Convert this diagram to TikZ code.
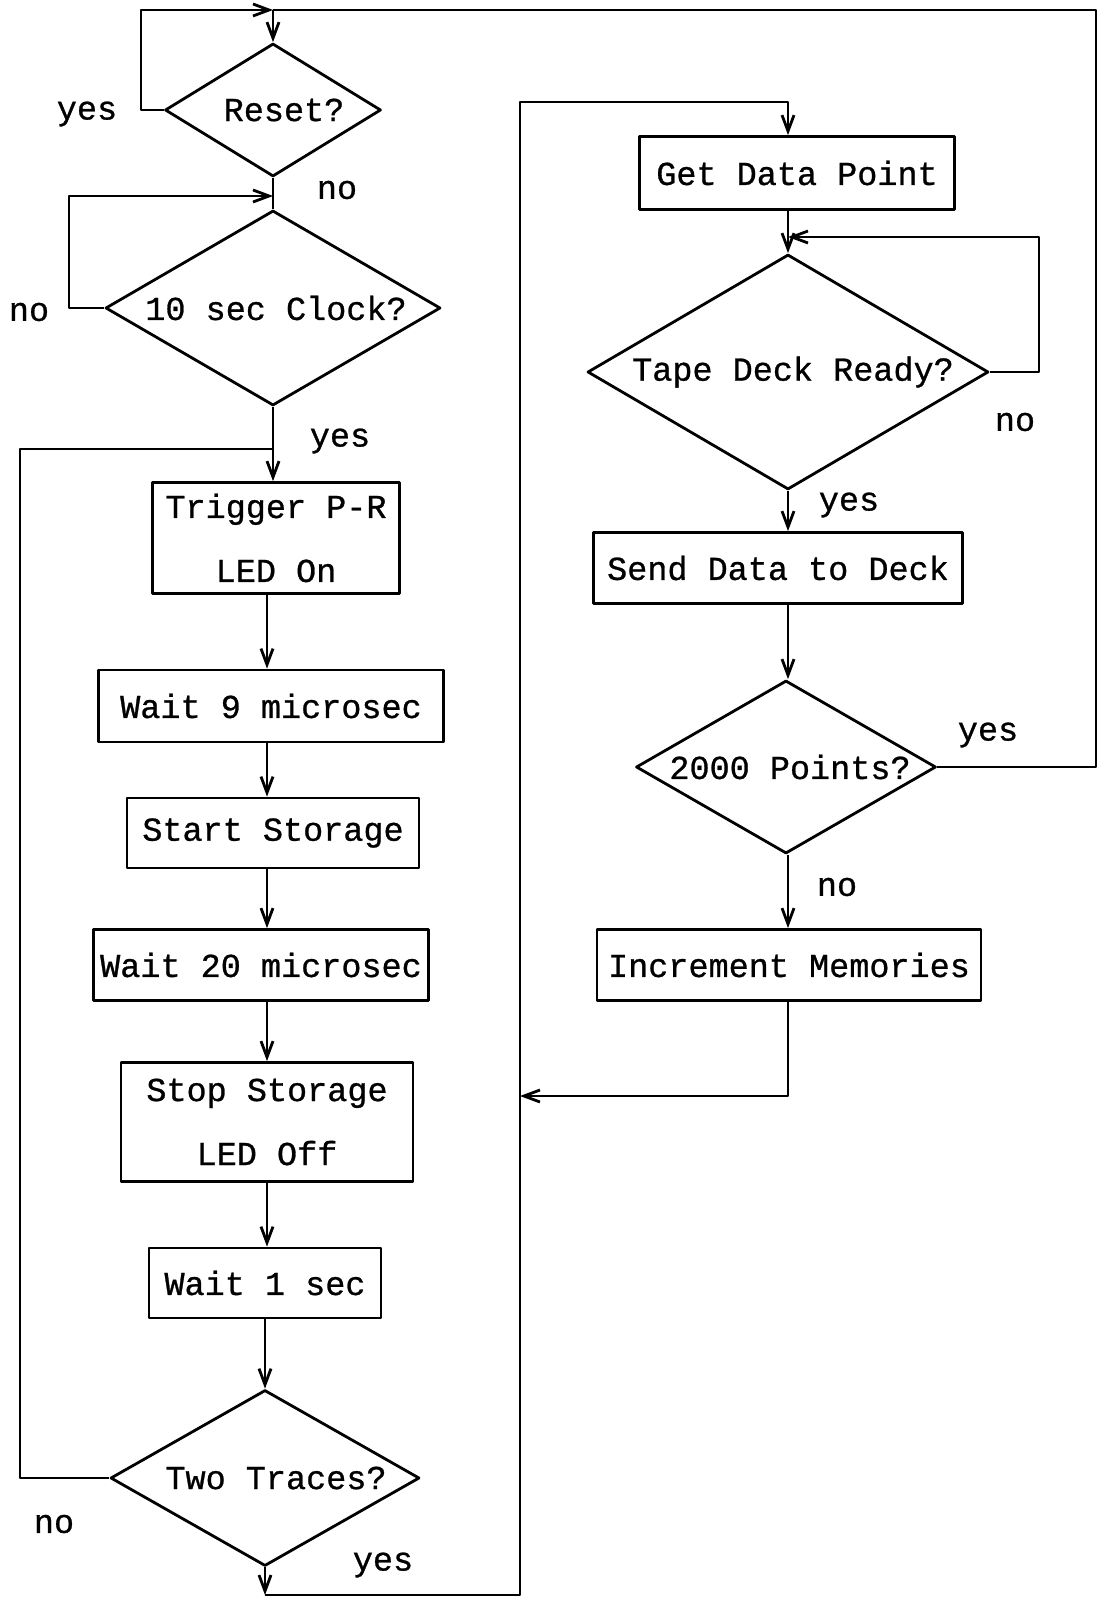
\documentclass[tikz,border=0pt]{standalone}
\usepackage{fontspec}
\newfontfamily\tw[FakeBold=0.8]{Liberation Mono}
\usetikzlibrary{shapes.geometric,arrows.meta}
\begin{document}
\begin{tikzpicture}[x=1pt,y=-1pt,
  every node/.style={font=\tw\fontsize{33.5}{64}\selectfont},
  ln/.style={line width=2.8pt, line join=round},
  arr/.style={ln,-{Straight Barb[length=16pt,width=12pt]}},
  box/.style={draw,ln,inner sep=0pt,align=center},
  dia/.style={draw,ln,diamond,inner sep=0pt,aspect=1.7},
  lab/.style={inner sep=0pt}]
\useasboundingbox (0,0) rectangle (1098,1600);
% left column
\node[dia,minimum width=216pt,minimum height=133pt] (reset) at (273,110) {\hspace*{22pt}Reset?};
\node[dia,minimum width=335pt,minimum height=195pt] (clock) at (273,308) {\hspace*{6pt}10 sec Clock?};
\node[box,minimum width=247pt,minimum height=111pt] (trig) at (276,538) {Trigger P-R\\LED On};
\node[box,minimum width=345pt,minimum height=72pt] (w9) at (271,706) {Wait 9 microsec};
\node[box,minimum width=292pt,minimum height=70pt] (ss) at (273,833) {Start Storage};
\node[box,minimum width=335pt,minimum height=71pt] (w20) at (261,965) {Wait 20 microsec};
\node[box,minimum width=292pt,minimum height=119pt] (stop) at (267,1122) {Stop Storage\\LED Off};
\node[box,minimum width=232pt,minimum height=70pt] (w1) at (265,1283) {Wait 1 sec};
\node[dia,minimum width=309pt,minimum height=176pt] (two) at (265,1478) {\hspace*{22pt}Two Traces?};
% right column
\node[box,minimum width=315pt,minimum height=73pt] (gd) at (797,173) {Get Data Point};
\node[dia,minimum width=401pt,minimum height=235pt] (tape) at (788,372) {\hspace*{10pt}Tape Deck Ready?};
\node[box,minimum width=369pt,minimum height=71pt] (send) at (778,568) {Send Data to Deck};
\node[dia,minimum width=300pt,minimum height=173pt] (pts) at (786,767) {\hspace*{8pt}2000 Points?};
\node[box,minimum width=384pt,minimum height=71pt] (inc) at (789,965) {Increment Memories};
% labels
\node[lab] (l1) at (87,114) {yes};
\node[lab] (l2) at (337,190) {no};
\node[lab] (l3) at (29,312) {no};
\node[lab] (l4) at (340,441) {yes};
\node[lab] (l5) at (54,1524) {no};
\node[lab] (l6) at (383,1565) {yes};
\node[lab] (l7) at (1015,422) {no};
\node[lab] (l8) at (849,505) {yes};
\node[lab] (l9) at (988,735) {yes};
\node[lab] (l10) at (837,887) {no};
% coordinates
\coordinate (cl2) at (267,0);
\coordinate (cr) at (788,0);
\coordinate (top) at (273,10);
\coordinate (tl) at (141,10);
\coordinate (tr) at (1096,10);
\coordinate (nl) at (69,196);
\coordinate (nj) at (273,196);
\coordinate (lj) at (20,449);
\coordinate (j1) at (273,449);
\coordinate (bl) at (265,1595);
\coordinate (br) at (520,1595);
\coordinate (rt) at (520,102);
\coordinate (tn) at (1039,237);
\coordinate (tj) at (788,237);
\coordinate (rj) at (520,1096);
% connectors left
\draw[arr] (reset.west) -| (tl) -- (top);
\draw[arr] (top) -- (reset.north);
\draw[ln] (pts.east) -| (tr) -- (top);
\draw[ln] (reset.south) -- (clock.north);
\draw[arr] (clock.west) -| (nl) -- (nj);
\draw[ln] (two.west) -| (lj) -- (j1);
\draw[arr] (clock.south) -- (trig.north -| clock.south);
\draw[arr] (trig.south -| cl2) -- (w9.north -| cl2);
\draw[arr] (w9.south -| cl2) -- (ss.north -| cl2);
\draw[arr] (ss.south -| cl2) -- (w20.north -| cl2);
\draw[arr] (w20.south -| cl2) -- (stop.north -| cl2);
\draw[arr] (stop.south -| cl2) -- (w1.north -| cl2);
\draw[arr] (w1.south -| two.north) -- (two.north);
\draw[arr] (two.south) -- (bl);
\draw[arr] (bl) -- (br) -- (rt) -| (gd.north -| cr);
% connectors right
\draw[arr] (gd.south -| cr) -- (tape.north);
\draw[arr] (tape.east) -| (tn) -- (tj);
\draw[arr] (tape.south) -- (send.north -| cr);
\draw[arr] (send.south -| cr) -- (pts.north -| cr);
\draw[arr] (pts.south -| cr) -- (inc.north -| cr);
\draw[arr] (inc.south -| cr) |- (rj);
\end{tikzpicture}
\end{document}
